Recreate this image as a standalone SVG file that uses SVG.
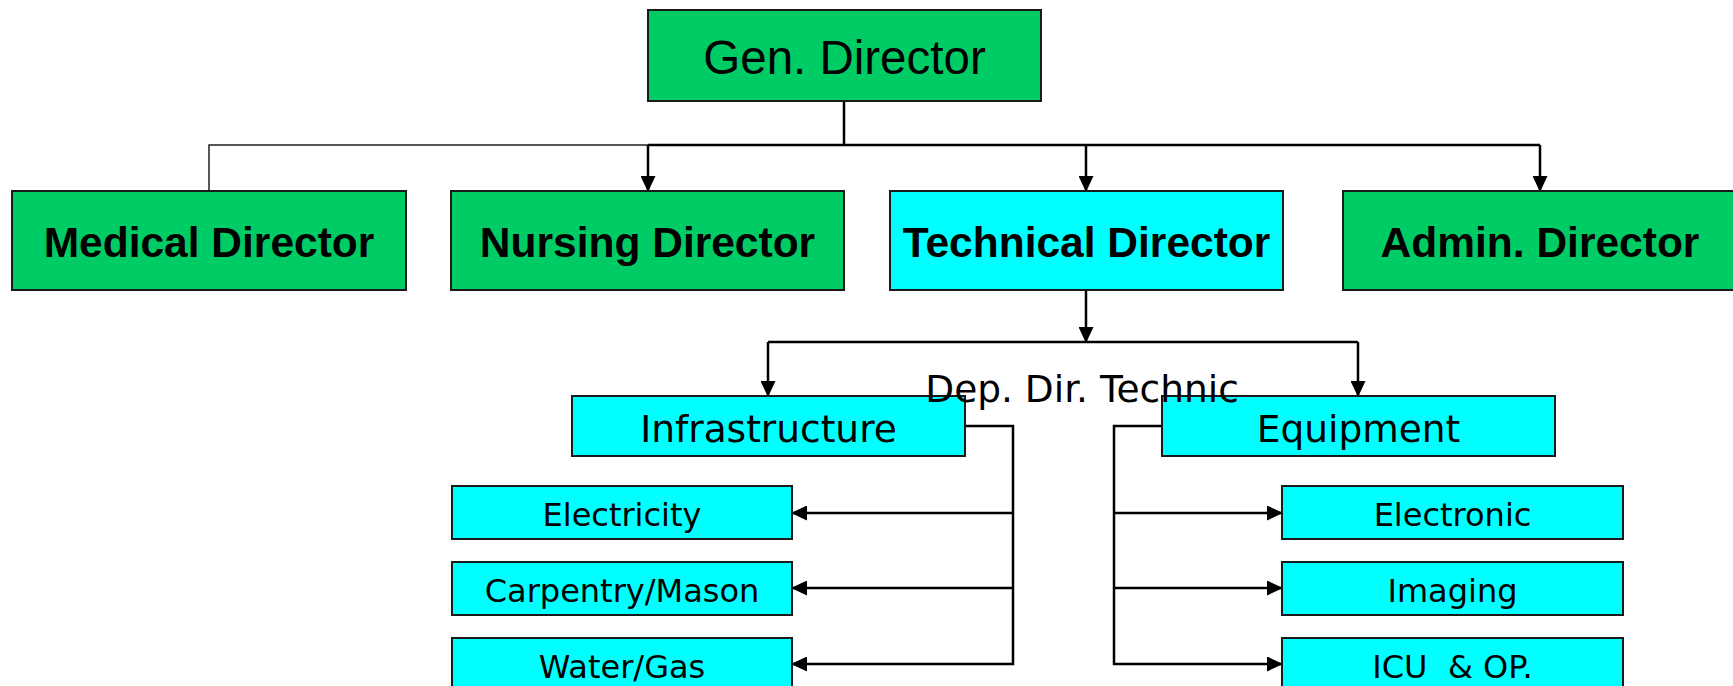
<svg xmlns="http://www.w3.org/2000/svg" width="1733" height="686" viewBox="0 0 1733 686">
<style>
.g{fill:#00CC66;stroke:#1a1a1a;stroke-width:2}
.c{fill:#00FFFF;stroke:#1a1a1a;stroke-width:2}
.t1{font-family:"Liberation Sans",Arial,sans-serif;font-size:47.5px;fill:#000;text-anchor:middle}
.t2{font-family:"Liberation Sans",Arial,sans-serif;font-size:42.5px;font-weight:bold;fill:#000;text-anchor:middle}
.t3{font-family:"DejaVu Sans",Verdana,sans-serif;font-size:37.5px;fill:#000;text-anchor:middle}
.t4{font-family:"DejaVu Sans",Verdana,sans-serif;font-size:32px;fill:#000;text-anchor:middle;white-space:pre}
.ln{fill:none;stroke:#000;stroke-width:2.5}
.thin{fill:none;stroke:#222;stroke-width:1.5}
.ar{marker-end:url(#arr)}
</style>
<defs>
<marker id="arr" markerUnits="userSpaceOnUse" markerWidth="16" markerHeight="15" refX="15" refY="7.5" orient="auto">
<path d="M0,0 L16,7.5 L0,15 z" fill="#000"/>
</marker>
</defs>
<rect width="1733" height="686" fill="#fff"/>
<g id="connectors">
<path class="ln" d="M844,101 V145"/>
<path class="thin" d="M209,191 V145 H648"/>
<path class="ln" d="M648,145 H1540"/>
<path class="ln ar" d="M648,145 V191"/>
<path class="ln ar" d="M1086,145 V191"/>
<path class="ln ar" d="M1540,145 V191"/>
<path class="ln ar" d="M1086,290 V342"/>
<path class="ln" d="M768,342 H1358"/>
<path class="ln ar" d="M768,342 V396"/>
<path class="ln ar" d="M1358,342 V396"/>
<path class="ln ar" d="M965,426 H1013 V664 H792"/>
<path class="ln ar" d="M1013,513 H792"/>
<path class="ln ar" d="M1013,588 H792"/>
<path class="ln ar" d="M1162,426 H1114 V664 H1282"/>
<path class="ln ar" d="M1114,513 H1282"/>
<path class="ln ar" d="M1114,588 H1282"/>
</g>
<g id="gen"><rect class="g" x="648" y="10" width="393" height="91"/><text class="t1" x="844.5" y="74">Gen. Director</text></g>
<g id="medical"><rect class="g" x="12" y="191" width="394" height="99"/><text class="t2" x="209" y="257">Medical Director</text></g>
<g id="nursing"><rect class="g" x="451" y="191" width="393" height="99"/><text class="t2" x="647.5" y="257">Nursing Director</text></g>
<g id="technical"><rect class="c" x="890" y="191" width="393" height="99"/><text class="t2" x="1086.5" y="257">Technical Director</text></g>
<g id="admin"><rect class="g" x="1343" y="191" width="394" height="99"/><text class="t2" x="1540" y="257">Admin. Director</text></g>
<g id="infrastructure"><rect class="c" x="572" y="396" width="393" height="60"/><text class="t3" x="768.5" y="442">Infrastructure</text></g>
<g id="equipment"><rect class="c" x="1162" y="396" width="393" height="60"/><text class="t3" x="1358.5" y="442">Equipment</text></g>
<g id="electricity"><rect class="c" x="452" y="486" width="340" height="53"/><text class="t4" x="622" y="526">Electricity</text></g>
<g id="carpentry"><rect class="c" x="452" y="562" width="340" height="53"/><text class="t4" x="622" y="602">Carpentry/Mason</text></g>
<g id="water"><rect class="c" x="452" y="638" width="340" height="53"/><text class="t4" x="622" y="678">Water/Gas</text></g>
<g id="electronic"><rect class="c" x="1282" y="486" width="341" height="53"/><text class="t4" x="1452.5" y="526">Electronic</text></g>
<g id="imaging"><rect class="c" x="1282" y="562" width="341" height="53"/><text class="t4" x="1452.5" y="602">Imaging</text></g>
<g id="icu"><rect class="c" x="1282" y="638" width="341" height="53"/><text class="t4" x="1452.5" y="678">ICU  &amp; OP.</text></g>
<g id="depdir"><text class="t3" x="1082" y="402">Dep. Dir. Technic</text></g>
</svg>
